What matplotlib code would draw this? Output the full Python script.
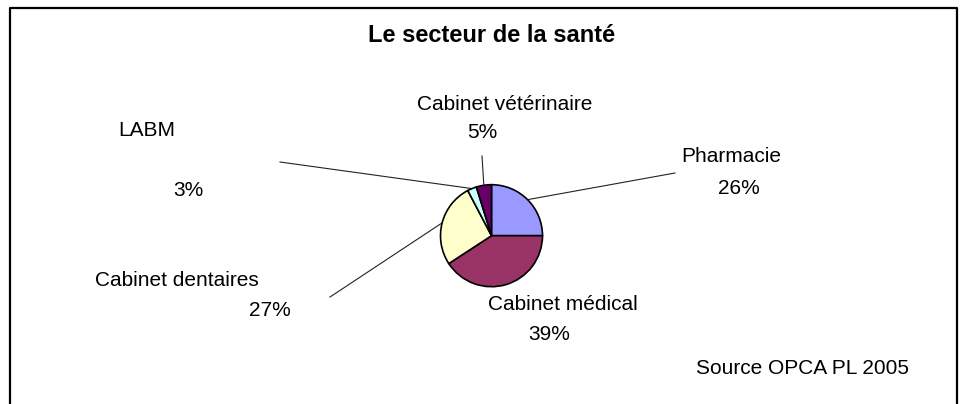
import numpy as np
import matplotlib

matplotlib.use("Agg")
import matplotlib.pyplot as plt

W, H = 965, 404

# slice shares as drawn and the printed labels
categories = ["Pharmacie", "Cabinet médical", "Cabinet dentaires", "LABM", "Cabinet vétérinaire"]
shares = [25.0, 40.8, 26.5, 2.9, 4.8]
pct_labels = ["26%", "39%", "27%", "3%", "5%"]
colors = ["#9999FF", "#993366", "#FFFFCC", "#CCFFFF", "#660066"]

# label layout in pixel coords (x, y of name, x, y of percentage)
name_pos = [(731, 157), (563, 305), (177, 281), (147, 131), (505, 105)]
pct_pos = [(739, 188), (549, 334), (270, 310), (188, 190), (482, 133)]
# start of leader line (None = no leader)
leader_start = [(675, 173), None, (330, 297), (280, 162), (482, 156)]

CX, CY, R = 491.5, 235.7, 51


def py(y):
    return H - y


plt.rcParams["font.family"] = ["Liberation Sans", "DejaVu Sans"]
fig = plt.figure(figsize=(W / 100, H / 100), dpi=100)
ax = fig.add_axes([0, 0, 1, 1])
ax.set_xlim(0, W)
ax.set_ylim(0, H)
ax.set_aspect("equal")
ax.axis("off")

wedges, _ = ax.pie(
    shares, colors=colors, startangle=90, counterclock=False,
    center=(CX, py(CY)), radius=R,
    wedgeprops=dict(edgecolor="black", linewidth=1.2),
)
ax.set_xlim(0, W)
ax.set_ylim(0, H)

for w, name, pct, npos, ppos, ls in zip(wedges, categories, pct_labels,
                                        name_pos, pct_pos, leader_start):
    ax.text(npos[0], py(npos[1]), name, ha="center", va="center", fontsize=15)
    ax.text(ppos[0], py(ppos[1]), pct, ha="center", va="center", fontsize=15)
    if ls is not None:
        mid = np.deg2rad((w.theta1 + w.theta2) / 2)
        ex, ey = CX + R * np.cos(mid), py(CY) + R * np.sin(mid)
        ax.plot([ls[0], ex], [py(ls[1]), ey], color="#222222", lw=0.8, zorder=0)

ax.text(492, py(36), "Le secteur de la santé", ha="center", va="center",
        fontsize=17, fontweight="bold")
ax.text(803, py(368), "Source OPCA PL 2005", ha="center", va="center", fontsize=15)

# chart frame (bottom edge runs past the image)
ax.plot([10, 10, 957, 957], [py(420), py(8), py(8), py(420)],
        color="black", lw=1.6, clip_on=False)

fig.savefig("out.png", dpi=100)
